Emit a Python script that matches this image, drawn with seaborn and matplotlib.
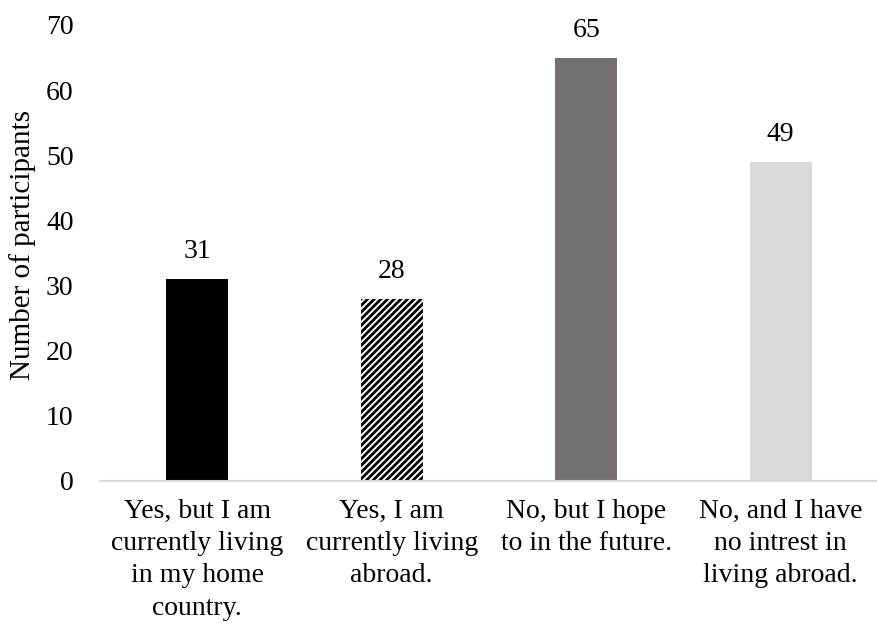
import matplotlib
matplotlib.use("Agg")
import matplotlib.pyplot as plt
import seaborn as sns
import pandas as pd

categories = [
    "Yes, but I am\ncurrently living\nin my home\ncountry.",
    "Yes, I am\ncurrently living\nabroad.",
    "No, but I hope\nto in the future.",
    "No, and I have\nno intrest in\nliving abroad.",
]
counts = [31, 28, 65, 49]
bar_colors = ["#000000", "#ffffff", "#757070", "#d9d9d9"]
y_ticks = [0, 10, 20, 30, 40, 50, 60, 70]

sns.set_theme(style="white")
plt.rcParams["font.family"] = ["Liberation Serif", "DejaVu Serif"]
plt.rcParams["hatch.linewidth"] = 2.0

FS = 20

df = pd.DataFrame({"category": categories, "count": counts})

fig = plt.figure(figsize=(8.78, 6.24), dpi=100)
ax = fig.add_axes([100 / 878, (624 - 481) / 624, 778 / 878, (481 - 25) / 624])

sns.barplot(data=df, x="category", y="count", hue="category",
            palette=bar_colors, width=0.32, legend=False, ax=ax,
            saturation=1, linewidth=0)

# diagonal stripes on the second bar
patches = ax.patches
patches[1].set_hatch("/////")
patches[1].set_edgecolor("#000000")
patches[1].set_linewidth(0)

for p, v in zip(patches, counts):
    ax.text(p.get_x() + p.get_width() / 2, v + 2.3, str(v),
            ha="center", va="bottom", fontsize=FS, color="#000000")

ax.set_ylim(0, 70)
ax.set_xlim(-0.5, 3.5)
ax.set_yticks(y_ticks)
ax.set_yticklabels([str(t) for t in y_ticks], fontsize=FS, color="#000000")
ax.tick_params(axis="y", length=0, pad=19)
ax.tick_params(axis="x", length=0, pad=13, labelsize=FS, labelcolor="#000000")
for lbl in ax.get_xticklabels():
    lbl.set_linespacing(1.38)
ax.set_xlabel("")
ax.set_ylabel("Number of participants", fontsize=21, color="#000000")
ax.yaxis.set_label_coords(-0.082, 0.517)

for s in ["top", "right", "left"]:
    ax.spines[s].set_visible(False)
ax.spines["bottom"].set_color("#d9d9d9")
ax.spines["bottom"].set_linewidth(1.5)

fig.savefig("out.png", dpi=100)
